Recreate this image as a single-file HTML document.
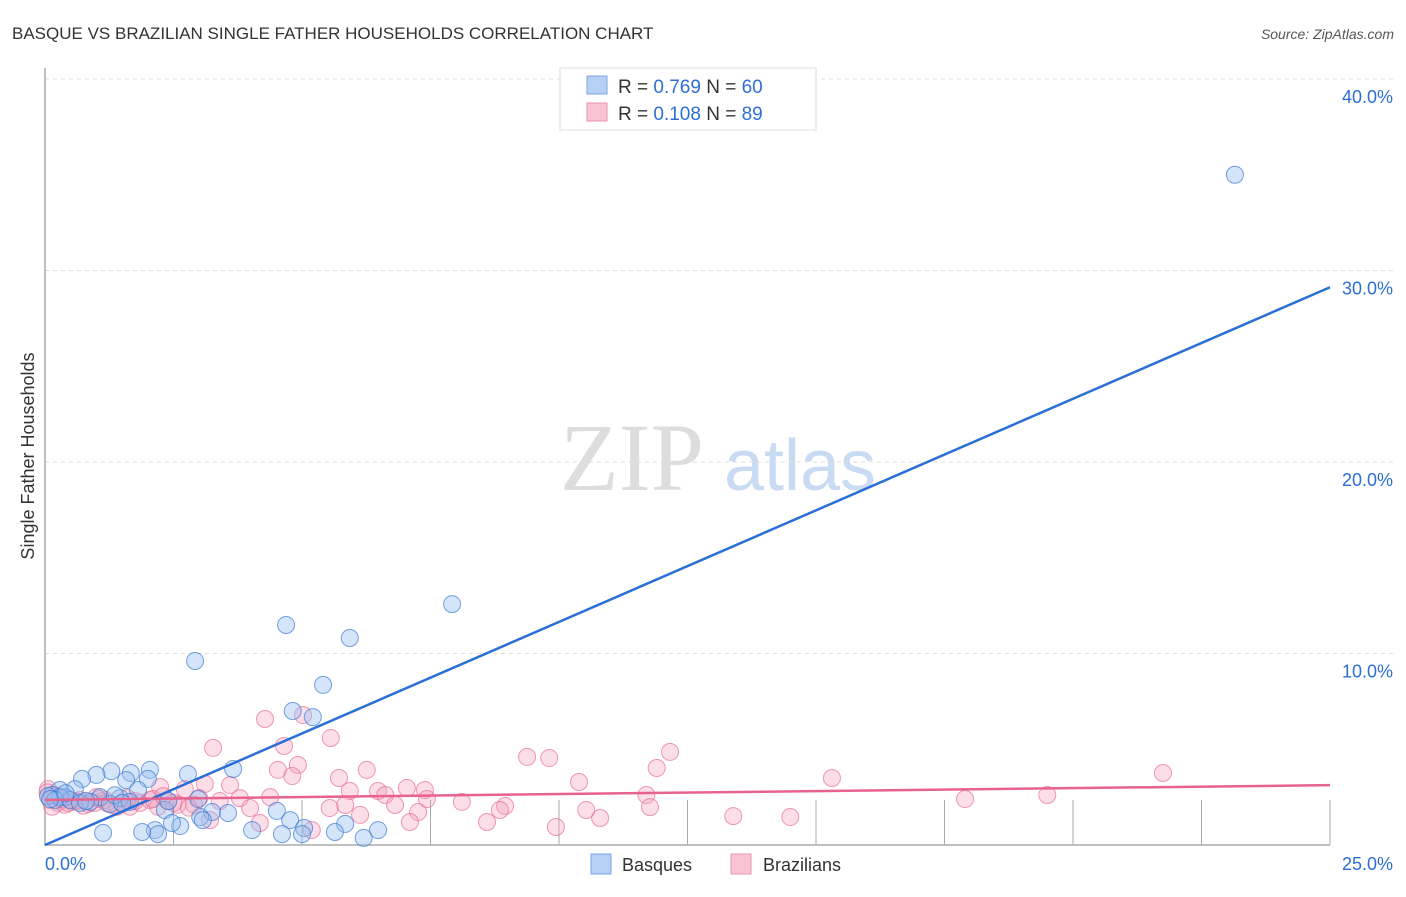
<!DOCTYPE html>
<html><head><meta charset="utf-8"><style>
body{margin:0;background:#fff;font-family:"Liberation Sans",sans-serif}
</style></head><body>
<svg width="1406" height="892" xmlns="http://www.w3.org/2000/svg" id="svg" font-family="Liberation Sans, sans-serif">
<text x="12" y="39" font-size="17" fill="#333">BASQUE VS BRAZILIAN SINGLE FATHER HOUSEHOLDS CORRELATION CHART</text>
<text x="1394" y="39" font-size="14" fill="#555" font-style="italic" text-anchor="end">Source: ZipAtlas.com</text>
<text x="632" y="490" font-size="96" fill="#ddd" font-family="Liberation Serif, serif" text-anchor="middle">ZIP</text>
<text x="800" y="490" font-size="72" fill="#c9dbf3" text-anchor="middle">atlas</text>
<text transform="translate(34,456) rotate(-90)" font-size="18" fill="#333" text-anchor="middle">Single Father Households</text>
<g id="grid"></g><g id="pts"></g><g id="lines"></g>
<g>
<rect x="560" y="68" width="256" height="62" fill="#fff" stroke="#ddd"/>
<rect x="587" y="76" width="20" height="18" fill="#b5d0f3" stroke="#7aa6e6"/>
<rect x="587" y="103" width="20" height="18" fill="#f8c3d3" stroke="#eb93ae"/>
<text x="618" y="93" font-size="19" fill="#333">R = <tspan fill="#2c6fd6">0.769</tspan>   N = <tspan fill="#2c6fd6">60</tspan></text>
<text x="618" y="120" font-size="19" fill="#333">R = <tspan fill="#2c6fd6">0.108</tspan>   N = <tspan fill="#2c6fd6">89</tspan></text>
</g>
<g>
<rect x="591" y="854" width="20" height="20" fill="#b5d0f3" stroke="#7aa6e6"/>
<text x="622" y="871" font-size="18" fill="#333">Basques</text>
<rect x="731" y="854" width="20" height="20" fill="#f8c3d3" stroke="#eb93ae"/>
<text x="763" y="871" font-size="18" fill="#333">Brazilians</text>
</g>
</svg>
<script>
const yTicks=[10,20,30,40];
const yTickLabels=["10.0%","20.0%","30.0%","40.0%"];
const xTicks=[2.5,5,7.5,10,12.5,15,17.5,20,22.5,25];
const basqueX=[23.15,7.92,4.69,5.93,2.92,5.41,4.82,5.21,3.66,2.78,2.04,1.29,1.67,1.0,0.72,2.0,1.58,1.81,0.58,0.29,0.14,0.39,1.07,1.46,2.98,0.88,1.26,1.65,2.33,3.25,3.02,3.56,4.51,3.07,4.77,5.04,5.84,2.63,2.47,2.14,2.2,1.89,1.13,4.03,4.61,5.0,5.64,6.2,6.48,0.29,0.06,0.2,0.49,0.68,1.36,0.1,0.4,0.8,1.5,2.4];
const basqueY=[35.0,12.58,11.49,10.81,9.61,8.36,7.0,6.68,3.97,3.71,3.92,3.86,3.76,3.66,3.45,3.45,3.39,2.87,2.92,2.87,2.61,2.5,2.5,2.45,2.4,2.25,2.14,2.25,1.83,1.72,1.46,1.67,1.78,1.3,1.3,0.89,1.1,0.99,1.15,0.78,0.57,0.68,0.63,0.78,0.57,0.57,0.68,0.37,0.78,2.5,2.55,2.35,2.35,2.2,2.6,2.4,2.7,2.3,2.2,2.3];
const brazX=[4.28,5.02,5.56,3.27,4.65,12.16,9.38,9.81,11.9,4.92,4.53,6.26,4.81,5.72,21.75,15.31,10.39,3.11,3.6,7.04,6.48,5.93,7.39,2.24,2.72,0.06,11.7,19.5,6.62,3.79,4.38,7.43,17.9,8.11,8.95,8.85,11.77,10.53,5.84,6.81,5.54,3.99,6.13,7.26,7.1,10.8,13.39,14.5,8.6,9.94,4.18,3.21,5.19,0.1,0.25,0.39,0.53,0.68,0.84,0.97,1.17,1.3,1.5,1.65,1.85,2.04,2.2,2.39,2.58,0.14,0.33,0.75,1.05,1.4,1.75,2.1,2.5,2.9,3.4,0.2,0.6,1.0,1.2,2.8,3.0,0.05,0.45,1.6,2.3];
const brazY=[6.58,6.79,5.59,5.07,5.17,4.86,4.6,4.54,4.02,4.18,3.92,3.92,3.6,3.5,3.76,3.5,3.29,3.19,3.13,2.98,2.82,2.82,2.87,3.03,2.92,2.92,2.61,2.61,2.61,2.45,2.5,2.4,2.4,2.25,2.04,1.83,1.98,1.83,2.09,2.09,1.93,1.93,1.57,1.72,1.2,1.41,1.51,1.46,1.2,0.94,1.15,1.3,0.78,2.35,2.2,2.1,2.25,2.35,2.15,2.2,2.35,2.1,2.15,2.0,2.2,2.35,2.0,2.3,2.1,2.0,2.4,2.05,2.4,2.0,2.3,2.4,2.2,2.1,2.3,2.6,2.3,2.5,2.2,1.95,2.45,2.75,2.2,2.45,2.55];
const blueFit=[0.0,1.165];
const pinkFit=[2.35,0.031];
const NS="http://www.w3.org/2000/svg";
const X=v=>45+v*51.4, Y=v=>845-v*19.15;
function mk(t,a,p){const e=document.createElementNS(NS,t);for(const k in a)e.setAttribute(k,a[k]);p.appendChild(e);return e;}
const g=document.getElementById('grid');
yTicks.forEach((t,i)=>{
const l=mk('line',{x1:45,x2:1394,y1:Y(t),y2:Y(t),stroke:'#ddd','stroke-dasharray':'4,4'},g);


const tx=mk('text',{x:1393,y:Y(t)+24,'font-size':18,fill:'#2c6fd6','text-anchor':'end'},g);
tx.textContent=yTickLabels[i];


});
const ax=mk('path',{d:'M45,68V845H1330',fill:'none',stroke:'#aaa','stroke-width':1.5},g);


xTicks.forEach(t=>{const l=mk('line',{x1:X(t),x2:X(t),y1:800,y2:845,stroke:'#aaa'},g);

});
[["0.0%",45,"start"],["25.0%",1393,"end"]].forEach(d=>{const t=mk('text',{x:d[1],y:870,'font-size':18,fill:'#2c6fd6','text-anchor':d[2]},g);t.textContent=d[0];

});
const p=document.getElementById('pts');
brazX.forEach((x,i)=>{const c=mk('circle',{cx:X(x),cy:Y(brazY[i]),r:8.5,fill:'rgba(244,160,188,0.35)',stroke:'rgba(232,110,150,0.7)','stroke-width':1},p);

});
basqueX.forEach((x,i)=>{const c=mk('circle',{cx:X(x),cy:Y(basqueY[i]),r:8.5,fill:'rgba(150,190,240,0.4)',stroke:'rgba(60,120,210,0.7)','stroke-width':1},p);

});
const L=document.getElementById('lines');
const b=mk('line',{x1:X(0),y1:Y(blueFit[0]),x2:X(25),y2:Y(blueFit[0]+blueFit[1]*25),stroke:'#2a6fd6','stroke-width':2.5},L);


const k=mk('line',{x1:X(0),y1:Y(pinkFit[0]),x2:X(25),y2:Y(pinkFit[0]+pinkFit[1]*25),stroke:'#e8628e','stroke-width':2.5},L);


</script>
</body></html>
